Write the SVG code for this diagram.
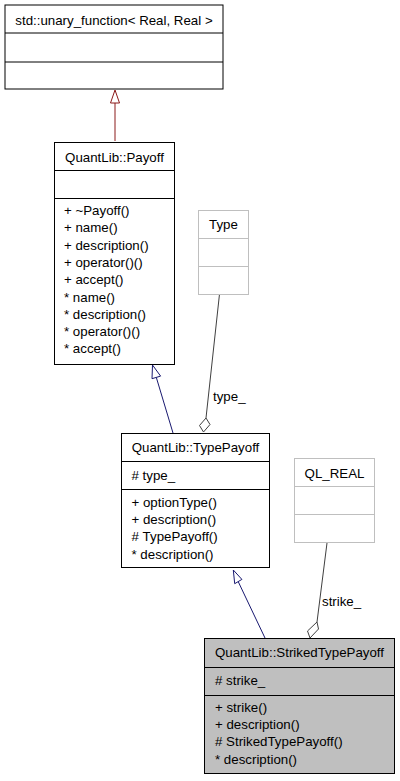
<svg xmlns="http://www.w3.org/2000/svg" width="400" height="781" viewBox="0 0 400 781">
<style>
text{font-family:"Liberation Sans",Arial,sans-serif;font-size:13.3px;fill:#000}
.c{text-anchor:middle}
.box{fill:#fff;stroke:#000;stroke-width:1}
.gbox{fill:#fff;stroke:#bfbfbf;stroke-width:1}
.sel{fill:#bfbfbf;stroke:#000;stroke-width:1}
.dl{stroke:#000;stroke-width:1}
.gl{stroke:#bfbfbf;stroke-width:1}
.inh-r{stroke:#8b1a1a;fill:none}
.inh-b{stroke:#191970;fill:none}
.agg{stroke:#404040;fill:none}
</style>
<rect width="400" height="781" fill="#fff"/>
<g id="edges">
  <line class="inh-r" x1="115" y1="141" x2="115" y2="103"/>
  <polygon points="115,90 110.5,103 119.5,103" fill="#fff" stroke="#8b1a1a"/>
  <line class="inh-b" x1="173" y1="433" x2="156.3" y2="377.4"/>
  <polygon points="152.5,365 160.6,376.1 152,378.7" fill="#fff" stroke="#191970"/>
  <line class="inh-b" x1="265" y1="638" x2="238.3" y2="581.8"/>
  <polygon points="233.3,570 241.9,579.4 234.7,583.7" fill="#fff" stroke="#191970"/>
  <line class="agg" x1="219.5" y1="294" x2="206" y2="418"/>
  <polygon points="206,418 210,424.5 203.5,432 199.5,425.5" fill="#fff" stroke="#404040"/>
  <text x="213" y="401">type_</text>
  <line class="agg" x1="327" y1="543" x2="317" y2="622"/>
  <polygon points="317,622 318.5,629 310,638 307.5,631" fill="#fff" stroke="#404040"/>
  <text x="322" y="606">strike_</text>
</g>
<g id="unary_function">
  <rect class="box" x="5" y="5" width="218" height="84"/>
  <line class="dl" x1="5" y1="33" x2="223" y2="33"/>
  <line class="dl" x1="5" y1="62" x2="223" y2="62"/>
  <text class="c" x="114" y="24.5">std::unary_function&lt; Real, Real &gt;</text>
</g>
<g id="Payoff">
  <rect class="box" x="54.5" y="142.5" width="120" height="222"/>
  <line class="dl" x1="54.5" y1="170.5" x2="174.5" y2="170.5"/>
  <line class="dl" x1="54.5" y1="198.5" x2="174.5" y2="198.5"/>
  <text class="c" x="114.5" y="162">QuantLib::Payoff</text>
  <text x="64" y="215">+ ~Payoff()</text>
  <text x="64" y="232.3">+ name()</text>
  <text x="64" y="249.6">+ description()</text>
  <text x="64" y="266.9">+ operator()()</text>
  <text x="64" y="284.2">+ accept()</text>
  <text x="64" y="301.5">* name()</text>
  <text x="64" y="318.8">* description()</text>
  <text x="64" y="336.1">* operator()()</text>
  <text x="64" y="353.4">* accept()</text>
</g>
<g id="Type">
  <rect class="gbox" x="198.5" y="210.5" width="50" height="84"/>
  <line class="gl" x1="198.5" y1="238.5" x2="248.5" y2="238.5"/>
  <line class="gl" x1="198.5" y1="266.5" x2="248.5" y2="266.5"/>
  <text class="c" x="223.5" y="228.5">Type</text>
</g>
<g id="TypePayoff">
  <rect class="box" x="121.5" y="433.5" width="148" height="134"/>
  <line class="dl" x1="121.5" y1="461.5" x2="269.5" y2="461.5"/>
  <line class="dl" x1="121.5" y1="489.5" x2="269.5" y2="489.5"/>
  <text class="c" x="195.5" y="452">QuantLib::TypePayoff</text>
  <text x="131.5" y="480">#&#160;type_</text>
  <text x="131.5" y="506.7">+ optionType()</text>
  <text x="131.5" y="524">+ description()</text>
  <text x="131.5" y="541.3">#&#160;TypePayoff()</text>
  <text x="131.5" y="558.6">* description()</text>
</g>
<g id="QL_REAL">
  <rect class="gbox" x="294.5" y="458.5" width="80" height="84"/>
  <line class="gl" x1="294.5" y1="486.5" x2="374.5" y2="486.5"/>
  <line class="gl" x1="294.5" y1="514.5" x2="374.5" y2="514.5"/>
  <text class="c" x="334.5" y="477.5">QL_REAL</text>
</g>
<g id="StrikedTypePayoff">
  <rect class="sel" x="204.5" y="638.5" width="190" height="135"/>
  <line class="dl" x1="204.5" y1="667.5" x2="394.5" y2="667.5"/>
  <line class="dl" x1="204.5" y1="695.5" x2="394.5" y2="695.5"/>
  <text class="c" x="299.5" y="657">QuantLib::StrikedTypePayoff</text>
  <text x="215" y="685">#&#160;strike_</text>
  <text x="215" y="711.7">+ strike()</text>
  <text x="215" y="729">+ description()</text>
  <text x="215" y="746.3">#&#160;StrikedTypePayoff()</text>
  <text x="215" y="763.6">* description()</text>
</g>
</svg>
